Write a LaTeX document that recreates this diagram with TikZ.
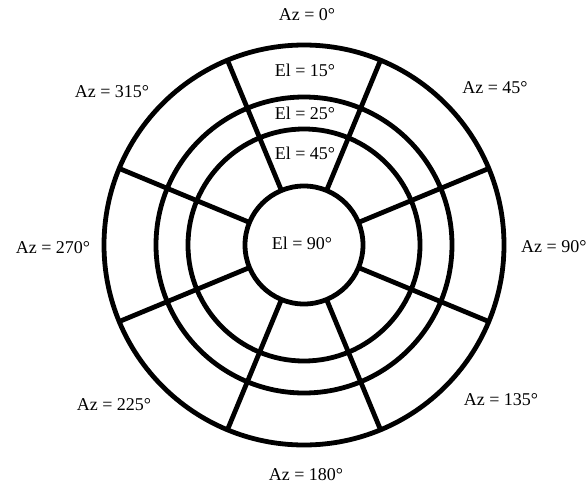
\documentclass[tikz,border=0pt]{standalone}
\usepackage{fontspec}
\setmainfont{Liberation Serif}
\begin{document}
\begin{tikzpicture}[x=1pt,y=-1pt,
  ring/.style={line width=4.8pt},
  lab/.style={font=\fontsize{18}{20}\selectfont, inner sep=0pt}]
\useasboundingbox (0,0) rectangle (587,485);
\coordinate (c) at (304,245);
% rings
\draw[ring] (c) circle[radius=200];
\draw[ring] (c) circle[radius=148];
\draw[ring] (c) circle[radius=116];
\draw[ring] (c) circle[radius=59];
% spokes
\foreach \a in {22.5,67.5,...,337.5}
  \draw[ring,shift={(304,245)}] (\a:59) -- (\a:200);
% azimuth labels
\node[lab] (az0)   at (307,15)  {Az = 0°};
\node[lab] (az45)  at (495,88)  {Az = 45°};
\node[lab,anchor=west] (az90) at (521,247) {Az = 90°};
\node[lab] (az135) at (501,400) {Az = 135°};
\node[lab] (az180) at (306,475) {Az = 180°};
\node[lab] (az225) at (114,405) {Az = 225°};
\node[lab] (az270) at (53,248)  {Az = 270°};
\node[lab] (az315) at (112,92)  {Az = 315°};
% elevation labels
\node[lab] (el15) at (305,70)  {El = 15°};
\node[lab] (el25) at (305,113) {El = 25°};
\node[lab] (el45) at (305,153) {El = 45°};
\node[lab] (el90) at (302,243) {El = 90°};
\end{tikzpicture}
\end{document}
